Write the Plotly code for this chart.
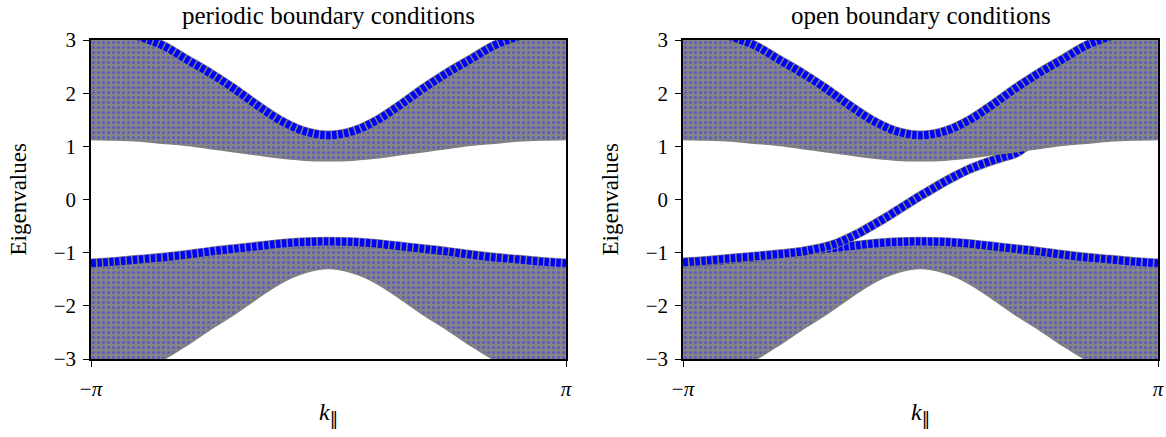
import numpy as np
import plotly.graph_objects as go

PI = np.pi

# momentum samples in units of pi
k_frac = [-1.0, -0.9, -0.8, -0.7, -0.6, -0.5, -0.4, -0.3, -0.2, -0.1, 0.0,
          0.1, 0.2, 0.3, 0.4, 0.5, 0.6, 0.7, 0.8, 0.9, 1.0]

# upper bulk band: highlighted (blue) top curve and lower envelope
upper_top = [3.35, 3.25, 3.07, 2.90, 2.64, 2.38, 2.09, 1.77, 1.48, 1.28, 1.21,
             1.28, 1.48, 1.77, 2.09, 2.38, 2.64, 2.90, 3.07, 3.25, 3.35]
upper_bottom = [1.13, 1.12, 1.10, 1.06, 1.02, 0.96, 0.90, 0.84, 0.78, 0.74, 0.73,
                0.74, 0.78, 0.84, 0.90, 0.96, 1.02, 1.06, 1.10, 1.12, 1.13]

# lower bulk band: highlighted (blue) top curve and lower envelope
lower_top = [-1.20, -1.17, -1.13, -1.09, -1.04, -0.98, -0.93, -0.88, -0.83, -0.80, -0.79,
             -0.80, -0.83, -0.88, -0.93, -0.98, -1.04, -1.09, -1.13, -1.17, -1.20]
lower_bottom = [-3.45, -3.35, -3.20, -3.02, -2.75, -2.45, -2.17, -1.86, -1.57, -1.38, -1.30,
                -1.38, -1.57, -1.86, -2.17, -2.45, -2.75, -3.02, -3.20, -3.35, -3.45]

# edge state (open boundary conditions)
edge_k_frac = [-1.0, -0.9, -0.8, -0.7, -0.6, -0.5, -0.45, -0.4, -0.35, -0.3, -0.25, -0.2,
               -0.15, -0.1, -0.05, 0.0, 0.05, 0.1, 0.15, 0.2, 0.25, 0.3, 0.35, 0.4, 0.45]
edge_E = [-1.18, -1.15, -1.11, -1.07, -1.03, -0.98, -0.94, -0.89, -0.82, -0.72, -0.61, -0.48,
          -0.35, -0.21, -0.07, 0.07, 0.20, 0.33, 0.45, 0.56, 0.65, 0.73, 0.80, 0.87, 1.02]

titles = ["periodic boundary conditions", "open boundary conditions"]
y_ticks = [-3, -2, -1, 0, 1, 2, 3]
y_ticktext = ["−3", "−2", "−1", "0", "1", "2", "3"]

k = [f * PI for f in k_frac]
ek = [f * PI for f in edge_k_frac]

W, H = 1166, 437
FONT = "Liberation Serif"
GRAY = "#808080"
BLUE = "#0000ff"

fig = go.Figure()

pattern = dict(shape=".", bgcolor="#858585", fgcolor="#3030ff", size=5, solidity=0.3)


def add_band(xa, ya, bottom, top):
    fig.add_trace(go.Scatter(x=k, y=bottom, mode="lines", line=dict(width=0, shape="spline"),
                             xaxis=xa, yaxis=ya, showlegend=False, hoverinfo="skip"))
    fig.add_trace(go.Scatter(x=k, y=top, mode="lines", line=dict(width=0, shape="spline"),
                             fill="tonexty", fillpattern=pattern, fillcolor=GRAY,
                             xaxis=xa, yaxis=ya, showlegend=False, hoverinfo="skip"))
    fig.add_trace(go.Scatter(x=k, y=bottom, mode="lines", line=dict(width=1.5, color=GRAY, shape="spline"),
                             xaxis=xa, yaxis=ya, showlegend=False, hoverinfo="skip"))


def add_blue(xa, ya, xs, ys):
    fig.add_trace(go.Scatter(x=xs, y=ys, mode="lines", line=dict(width=9.5, color=GRAY, shape="spline"),
                             xaxis=xa, yaxis=ya, showlegend=False, hoverinfo="skip"))
    fig.add_trace(go.Scatter(x=xs, y=ys, mode="lines",
                             line=dict(width=8, color=BLUE, shape="spline", dash="4.5px,1.5px"),
                             xaxis=xa, yaxis=ya, showlegend=False, hoverinfo="skip"))


for i, (xa, ya) in enumerate([("x", "y"), ("x2", "y2")]):
    add_band(xa, ya, lower_bottom, lower_top)
    add_blue(xa, ya, k, lower_top)
    if i == 1:
        add_blue(xa, ya, ek, edge_E)
    add_band(xa, ya, upper_bottom, upper_top)
    add_blue(xa, ya, k, upper_top)

x_domains = [[91 / W, 566 / W], [683 / W, 1158 / W]]
y_domain = [1 - 359 / H, 1 - 40 / H]

axis_common = dict(showline=True, mirror=True, linecolor="black", linewidth=1.6,
                   ticks="outside", ticklen=6, tickwidth=1.4, tickcolor="black",
                   showgrid=False, zeroline=False, automargin=False,
                   tickfont=dict(family=FONT, size=21, color="black"))

fig.update_layout(
    width=W, height=H,
    margin=dict(l=0, r=0, t=0, b=0, pad=0, autoexpand=False),
    paper_bgcolor="white", plot_bgcolor="white",
    showlegend=False,
)

for i, (xk, yk) in enumerate([("xaxis", "yaxis"), ("xaxis2", "yaxis2")]):
    anchor_x = "y" if i == 0 else "y2"
    anchor_y = "x" if i == 0 else "x2"
    fig.update_layout(**{
        xk: dict(domain=x_domains[i], range=[-PI, PI], anchor=anchor_x,
                 tickvals=[-PI, PI], ticktext=["−<i>π</i>", "<i>π</i>"],
                 ticklabelstandoff=4, **axis_common),
        yk: dict(domain=y_domain, range=[-3, 3], anchor=anchor_y,
                 tickvals=y_ticks, ticktext=y_ticktext, ticklabelstandoff=3, **axis_common),
    })

annotations = []
for i in range(2):
    cx = (x_domains[i][0] + x_domains[i][1]) / 2
    annotations.append(dict(text=titles[i], x=cx, y=1 - 16 / H, xref="paper", yref="paper",
                            xanchor="center", yanchor="middle", showarrow=False,
                            font=dict(family=FONT, size=25, color="black")))
    annotations.append(dict(text="<i>k</i><sub><span style='font-family:DejaVu Sans'>‖</span></sub>",
                            x=cx, y=1 - 414 / H, xref="paper", yref="paper",
                            xanchor="center", yanchor="middle", showarrow=False,
                            font=dict(family=FONT, size=24, color="black")))
    lx = 18 if i == 0 else 610
    annotations.append(dict(text="Eigenvalues", x=lx / W, y=(y_domain[0] + y_domain[1]) / 2,
                            xref="paper", yref="paper", xanchor="center", yanchor="middle",
                            textangle=-90, showarrow=False,
                            font=dict(family=FONT, size=23, color="black")))
fig.update_layout(annotations=annotations)

fig.write_html("out.html")
